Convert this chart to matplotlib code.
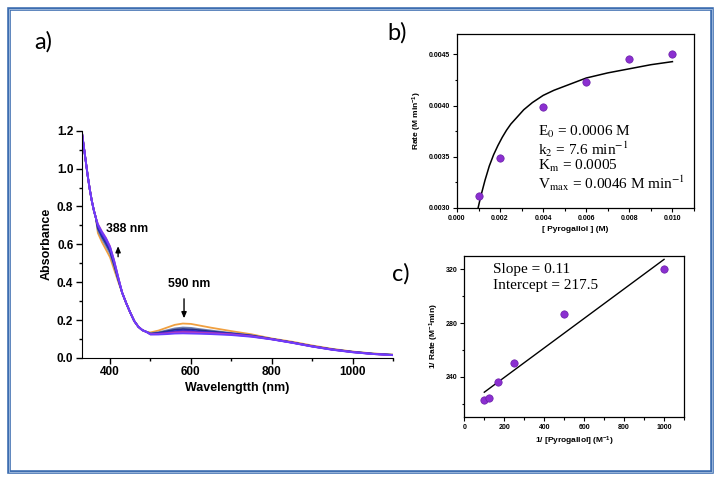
import matplotlib
matplotlib.use('Agg')
import matplotlib.pyplot as plt
from matplotlib.ticker import MultipleLocator, FormatStrFormatter
from matplotlib.patches import Rectangle

plt.rcParams['font.family'] = ['Liberation Sans', 'DejaVu Sans']
plt.rcParams['mathtext.fontset'] = 'custom'
plt.rcParams['mathtext.rm'] = 'Liberation Sans:bold'
plt.rcParams['mathtext.it'] = 'Liberation Sans:bold'
plt.rcParams['mathtext.bf'] = 'Liberation Sans:bold'

# ---- a) UV-vis spectra ----
wl_head = [330, 335, 340, 345, 350, 355, 360, 365]
abs_head = [1.20, 1.12, 1.04, 0.96, 0.89, 0.83, 0.78, 0.74]

wl_shoulder = [370, 380, 390, 400, 410, 420]
wl_mid = [430, 440, 450, 460, 470, 480, 490]
abs_mid = [0.345, 0.29, 0.24, 0.195, 0.165, 0.147, 0.138]
wl_band = [500, 520, 540, 560, 580, 600, 620, 650, 700, 750]
wl_tail = [800, 850, 900, 950, 1000, 1050, 1100]

spec_colors = ['#f0a040', '#7080b0', '#27307f', '#2424d8', '#7d2cbf', '#c040c0', '#6a3cff']
shoulder = [
    [0.660, 0.612, 0.572, 0.532, 0.468, 0.405],
    [0.675, 0.630, 0.592, 0.552, 0.485, 0.412],
    [0.685, 0.642, 0.605, 0.565, 0.495, 0.418],
    [0.692, 0.650, 0.615, 0.573, 0.503, 0.422],
    [0.700, 0.660, 0.625, 0.582, 0.510, 0.426],
    [0.708, 0.668, 0.634, 0.590, 0.517, 0.430],
    [0.704, 0.664, 0.630, 0.586, 0.514, 0.428],
]
band = [
    [0.135, 0.145, 0.160, 0.175, 0.182, 0.180, 0.172, 0.160, 0.142, 0.125],
    [0.130, 0.136, 0.146, 0.156, 0.161, 0.159, 0.153, 0.145, 0.132, 0.120],
    [0.128, 0.133, 0.141, 0.149, 0.153, 0.151, 0.147, 0.140, 0.130, 0.118],
    [0.127, 0.130, 0.136, 0.142, 0.145, 0.144, 0.140, 0.136, 0.128, 0.117],
    [0.126, 0.128, 0.132, 0.137, 0.140, 0.139, 0.136, 0.133, 0.126, 0.115],
    [0.125, 0.126, 0.129, 0.133, 0.135, 0.134, 0.132, 0.130, 0.124, 0.114],
    [0.124, 0.124, 0.126, 0.129, 0.130, 0.129, 0.128, 0.126, 0.121, 0.112],
]
tail = [
    [0.103, 0.086, 0.066, 0.048, 0.034, 0.024, 0.018],
    [0.101, 0.083, 0.063, 0.046, 0.033, 0.023, 0.017],
    [0.100, 0.082, 0.062, 0.045, 0.032, 0.022, 0.016],
    [0.100, 0.082, 0.062, 0.045, 0.032, 0.022, 0.016],
    [0.099, 0.081, 0.061, 0.044, 0.031, 0.021, 0.015],
    [0.099, 0.081, 0.061, 0.044, 0.031, 0.021, 0.015],
    [0.098, 0.080, 0.060, 0.043, 0.030, 0.021, 0.015],
]

# ---- b) Michaelis-Menten ----
conc = [0.001, 0.002, 0.004, 0.006, 0.008, 0.010]
rate = [0.00312, 0.00349, 0.00399, 0.00423, 0.00446, 0.00450]
fit_x = [0.00098, 0.0011, 0.0012, 0.0013, 0.0014, 0.0015, 0.0017, 0.0019, 0.0021, 0.0023,
         0.0025, 0.0028, 0.0031, 0.0035, 0.0040, 0.0045, 0.0050, 0.0060, 0.0070, 0.0080,
         0.0090, 0.0100]
fit_y = [0.00300, 0.00311, 0.00319, 0.00327, 0.00334, 0.00341, 0.00352, 0.00361, 0.00369, 0.00376,
         0.00382, 0.00389, 0.00396, 0.00403, 0.00410, 0.00415, 0.00419, 0.00427, 0.00432, 0.00436,
         0.00440, 0.00443]

# ---- c) Lineweaver-Burk ----
inv_conc = [100, 125, 167, 250, 500, 1000]
inv_rate = [222.5, 224.3, 236.3, 250.4, 286.5, 320.5]
lin_x = [100, 1000]
lin_y = [228.5, 327.5]

fig = plt.figure(figsize=(7.21, 4.83), dpi=100)

# outer frame
fig.patches.append(Rectangle((0.0125, 0.0228), 0.975, 0.958, transform=fig.transFigure,
                             fill=False, edgecolor='#3d6db0', lw=2.6))
fig.patches.append(Rectangle((0.0125, 0.0228), 0.975, 0.958, transform=fig.transFigure,
                             fill=False, edgecolor='#a8c0e0', lw=0.6))

# a)
ax1 = fig.add_axes([0.1133, 0.2588, 0.432, 0.4706])
for i in range(len(spec_colors)):
    x = wl_head + wl_shoulder + wl_mid + wl_band + wl_tail
    y = abs_head + shoulder[i] + abs_mid + band[i] + tail[i]
    ax1.plot(x, y, color=spec_colors[i], lw=1.3)
ax1.set_xlim(330, 1100)
ax1.set_ylim(0, 1.2)
ax1.spines['top'].set_visible(False)
ax1.spines['right'].set_visible(False)
ax1.xaxis.set_major_locator(MultipleLocator(200))
ax1.xaxis.set_minor_locator(MultipleLocator(100))
ax1.yaxis.set_major_locator(MultipleLocator(0.2))
ax1.yaxis.set_minor_locator(MultipleLocator(0.1))
ax1.yaxis.set_major_formatter(FormatStrFormatter('%.1f'))
ax1.tick_params(which='major', length=4, width=1, labelsize=8.5, pad=2)
ax1.tick_params(which='minor', length=2.5, width=1)
for lab in ax1.get_xticklabels() + ax1.get_yticklabels():
    lab.set_fontweight('bold')
ax1.set_xlabel('Wavelengtth (nm)', fontsize=9, fontweight='bold', labelpad=3)
ax1.set_ylabel('Absorbance', fontsize=9, fontweight='bold', labelpad=3)
ax1.annotate('', xy=(420, 0.605), xytext=(420, 0.52),
             arrowprops=dict(arrowstyle='-|>,head_width=0.15,head_length=0.35', color='black', lw=1))
ax1.text(442, 0.68, '388 nm', fontsize=8.8, fontweight='bold', ha='center', va='center')
ax1.annotate('', xy=(583, 0.195), xytext=(583, 0.327),
             arrowprops=dict(arrowstyle='-|>,head_width=0.15,head_length=0.35', color='black', lw=1))
ax1.text(596, 0.389, '590 nm', fontsize=8.8, fontweight='bold', ha='center', va='center')

# b)
ax2 = fig.add_axes([0.6338, 0.5694, 0.3287, 0.3602])
ax2.plot(fit_x, fit_y, color='black', lw=1.1)
ax2.scatter(conc, rate, s=28, color='#8b2fd0', edgecolor='#6a1fa8', linewidths=0.5, zorder=3)
ax2.set_xlim(0, 0.011)
ax2.set_ylim(0.0030, 0.0047)
ax2.xaxis.set_major_locator(MultipleLocator(0.002))
ax2.xaxis.set_minor_locator(MultipleLocator(0.001))
ax2.yaxis.set_major_locator(MultipleLocator(0.0005))
ax2.yaxis.set_minor_locator(MultipleLocator(0.00025))
ax2.xaxis.set_major_formatter(FormatStrFormatter('%.3f'))
ax2.yaxis.set_major_formatter(FormatStrFormatter('%.4f'))
ax2.set_xlabel('[ Pyrogallol ] (M)', fontsize=6, fontweight='bold', labelpad=3)
ax2.set_ylabel('Rate (M min$^{-1}$)', fontsize=6, fontweight='bold', labelpad=3)
ax2.text(0.00375, 0.00382, 'E$_0$ = 0.0006 M\nk$_2$ = 7.6 min$^{-1}$\nK$_\\mathrm{m}$ = 0.0005\nV$_\\mathrm{max}$ = 0.0046 M min$^{-1}$',
         fontsize=11, va='top', ha='left', linespacing=0.95, family='Liberation Serif',
         math_fontfamily='stix')

# c)
ax3 = fig.add_axes([0.644, 0.1366, 0.3047, 0.3333])
ax3.plot(lin_x, lin_y, color='black', lw=1.0)
ax3.scatter(inv_conc, inv_rate, s=28, color='#8b2fd0', edgecolor='#6a1fa8', linewidths=0.5, zorder=3)
ax3.set_xlim(0, 1100)
ax3.set_ylim(210, 330)
ax3.xaxis.set_major_locator(MultipleLocator(200))
ax3.xaxis.set_minor_locator(MultipleLocator(100))
ax3.yaxis.set_major_locator(MultipleLocator(40))
ax3.yaxis.set_minor_locator(MultipleLocator(20))
ax3.set_xlabel('1/ [Pyrogallol] (M$^{-1}$)', fontsize=6, fontweight='bold', labelpad=3)
ax3.set_ylabel('1/ Rate (M$^{-1}$min)', fontsize=6, fontweight='bold', labelpad=3)
ax3.text(145, 324.5, 'Slope = 0.11\nIntercept = 217.5', fontsize=11, va='top', ha='left',
         linespacing=1.25, family='Liberation Serif')

for ax in (ax2, ax3):
    ax.tick_params(which='major', length=3, width=0.8, labelsize=5, pad=2)
    ax.tick_params(which='minor', length=1.8, width=0.8)
    for lab in ax.get_xticklabels() + ax.get_yticklabels():
        lab.set_fontweight('bold')
    for sp in ax.spines.values():
        sp.set_linewidth(0.9)

# panel labels
for txt, px, py in [('a)', 0.060, 0.913), ('b)', 0.551, 0.932), ('c)', 0.556, 0.433)]:
    fig.text(px, py, txt, fontsize=17, family=['Lato', 'DejaVu Sans'], ha='center', va='center')

fig.savefig('out.png', dpi=100)
